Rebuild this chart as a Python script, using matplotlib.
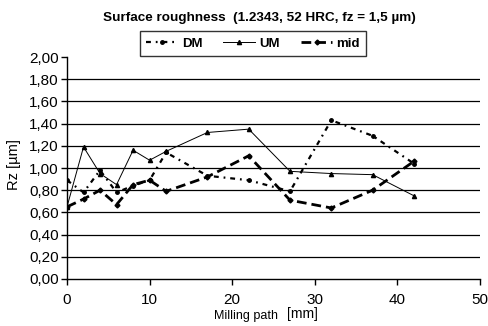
import matplotlib
matplotlib.use("Agg")
import matplotlib.pyplot as plt

plt.rcParams['font.family'] = ['Liberation Sans', 'DejaVu Sans']

# Data
milling_path = [0, 2, 4, 6, 8, 10, 12, 17, 22, 27, 32, 37, 42]
dm = [0.89, 0.78, 0.98, 0.78, 0.84, 0.89, 1.14, 0.93, 0.89, 0.79, 1.43, 1.29, 1.04]
um = [0.65, 1.19, 0.95, 0.85, 1.16, 1.07, 1.15, 1.32, 1.35, 0.97, 0.95, 0.94, 0.75]
mid = [0.65, 0.72, 0.80, 0.67, 0.85, 0.89, 0.79, 0.92, 1.11, 0.71, 0.64, 0.80, 1.06]
series_names = ["DM", "UM", "mid"]
yticks = [0.0, 0.2, 0.4, 0.6, 0.8, 1.0, 1.2, 1.4, 1.6, 1.8, 2.0]
xticks = [0, 10, 20, 30, 40, 50]

fig = plt.figure(figsize=(4.88, 3.26), dpi=100)
ax = fig.add_axes([67/488, 1-279/326, (480-67)/488, (279-57)/326])

for v in yticks[1:-1]:
    ax.axhline(v, color='black', lw=0.9, zorder=1)

l_dm, = ax.plot(milling_path, dm, color='black', lw=1.6, dashes=(2.2, 2.2, 0.8, 2.2),
                marker='o', ms=2.5, zorder=3)
l_um, = ax.plot(milling_path, um, color='black', lw=0.7, ls='-',
                marker='^', ms=3, zorder=3)
l_mid, = ax.plot(milling_path, mid, color='black', lw=2.0, dashes=(3.5, 1.8),
                 marker='D', ms=2.5, zorder=3)

ax.set_xlim(0, 50)
ax.set_ylim(0, 2)
ax.set_xticks(xticks)
ax.set_xticklabels([str(t) for t in xticks])
ax.set_yticks(yticks)
ax.set_yticklabels([f"{t:.2f}".replace('.', ',') for t in yticks])
for s in ['top', 'right']:
    ax.spines[s].set_visible(False)
for s in ['left', 'bottom']:
    ax.spines[s].set_linewidth(1.0)
ax.tick_params(axis='both', direction='out', length=4, width=1, labelsize=11, colors='black')
ax.tick_params(axis='y', pad=2)
ax.tick_params(axis='x', pad=6)

fig.text(14/488, 1-165/326, "Rz [µm]", rotation=90, ha='center', va='center', fontsize=10.5)
fig.text(278/488, 1-316/326, "Milling path", ha='right', va='center', fontsize=9)
fig.text(287/488, 1-314/326, "[mm]", ha='left', va='center', fontsize=10)

fig.text(259/488, 1-18/326, "Surface roughness  (1.2343, 52 HRC, fz = 1,5 µm)",
         ha='center', va='center', fontsize=9.7, fontweight='bold')

leg = fig.legend([l_dm, l_um, l_mid], series_names, loc='center',
                 bbox_to_anchor=(253/488, 1-43.5/326), ncol=3, frameon=True,
                 fancybox=False, edgecolor='black', prop={'weight': 'bold', 'size': 9.5},
                 handlelength=2.4, columnspacing=1.6, handletextpad=0.3,
                 borderpad=0.45, borderaxespad=0)
leg.get_frame().set_linewidth(1.0)

fig.savefig("out.png", dpi=100)
